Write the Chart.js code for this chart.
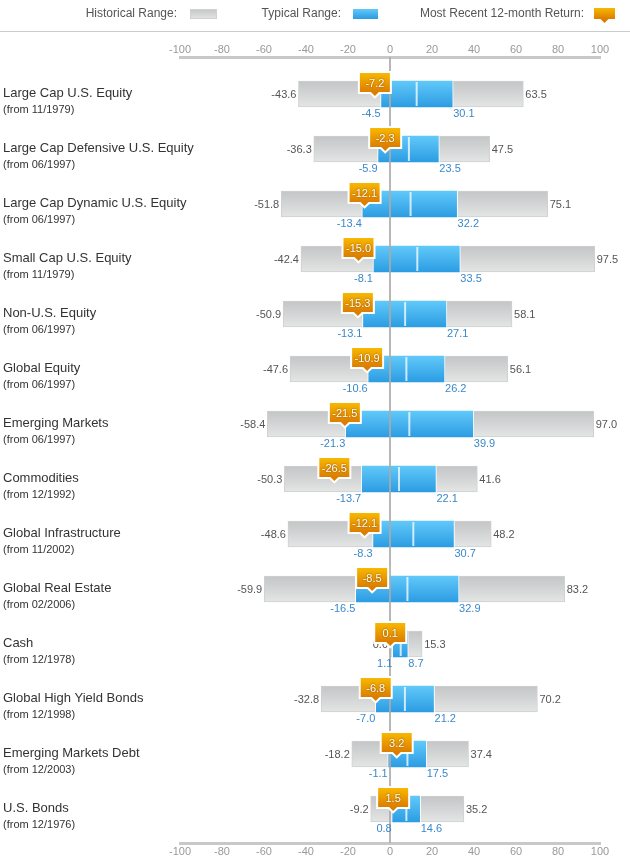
<!DOCTYPE html>
<html>
<head>
<meta charset="utf-8">
<script src="https://cdn.jsdelivr.net/npm/chart.js@4.4.1/dist/chart.umd.min.js"></script>
<style>
html, body { margin: 0; padding: 0; background: #fff; }
#wrap { width: 630px; height: 866px; position: relative; }
</style>
</head>
<body>
<div id="wrap"><canvas id="rangeChart"></canvas></div>
<script>
var categories = ["Large Cap U.S. Equity", "Large Cap Defensive U.S. Equity", "Large Cap Dynamic U.S. Equity",
  "Small Cap U.S. Equity", "Non-U.S. Equity", "Global Equity", "Emerging Markets", "Commodities",
  "Global Infrastructure", "Global Real Estate", "Cash", "Global High Yield Bonds",
  "Emerging Markets Debt", "U.S. Bonds"];
var fromDates = ["11/1979", "06/1997", "06/1997", "11/1979", "06/1997", "06/1997", "06/1997", "12/1992",
  "11/2002", "02/2006", "12/1978", "12/1998", "12/2003", "12/1976"];
var histMin = [-43.6, -36.3, -51.8, -42.4, -50.9, -47.6, -58.4, -50.3, -48.6, -59.9, 0.0, -32.8, -18.2, -9.2];
var histMax = [63.5, 47.5, 75.1, 97.5, 58.1, 56.1, 97.0, 41.6, 48.2, 83.2, 15.3, 70.2, 37.4, 35.2];
var typMin = [-4.5, -5.9, -13.4, -8.1, -13.1, -10.6, -21.3, -13.7, -8.3, -16.5, 1.1, -7.0, -1.1, 0.8];
var typMax = [30.1, 23.5, 32.2, 33.5, 27.1, 26.2, 39.9, 22.1, 30.7, 32.9, 8.7, 21.2, 17.5, 14.6];
var median = [12.7, 9.0, 9.8, 13.0, 7.2, 7.8, 9.2, 4.3, 11.1, 8.3, 5.1, 7.1, 8.3, 7.8];
var recent = [-7.2, -2.3, -12.1, -15.0, -15.3, -10.9, -21.5, -26.5, -12.1, -8.5, 0.1, -6.8, 3.2, 1.5];
var xTicks = [-100, -80, -60, -40, -20, 0, 20, 40, 60, 80, 100];

var FONT = "'Liberation Sans', Arial, sans-serif";

function rowGradient(chart, half, topColor, bottomColor) {
  var ys = chart.scales.y;
  var g = chart.ctx.createLinearGradient(0, ys.top, 0, ys.bottom);
  var span = ys.bottom - ys.top;
  function clamp(v) { return Math.max(0, Math.min(1, v)); }
  for (var i = 0; i < categories.length; i++) {
    var c = ys.getPixelForValue(i);
    g.addColorStop(clamp((c - half - ys.top) / span), topColor);
    g.addColorStop(clamp((c + half - ys.top) / span), bottomColor);
  }
  return g;
}

function swatchGradient(ctx, y0, y1, a, b) {
  var g = ctx.createLinearGradient(0, y0, 0, y1);
  g.addColorStop(0, a);
  g.addColorStop(1, b);
  return g;
}

function calloutPath(ctx, x, top, w, h) {
  ctx.beginPath();
  ctx.moveTo(x - w / 2, top);
  ctx.lineTo(x + w / 2, top);
  ctx.lineTo(x + w / 2, top + h);
  ctx.lineTo(x + 4, top + h);
  ctx.lineTo(x, top + h + 4);
  ctx.lineTo(x - 4, top + h);
  ctx.lineTo(x - w / 2, top + h);
  ctx.closePath();
}

function drawCallout(ctx, x, y, text) {
  var w = 30, h = 19, top = y - 21;
  ctx.save();
  calloutPath(ctx, x, top, w, h);
  ctx.lineWidth = 4;
  ctx.lineJoin = "miter";
  ctx.strokeStyle = "#fff";
  ctx.stroke();
  ctx.fillStyle = swatchGradient(ctx, top, top + h, "#f8b800", "#dc7d00");
  ctx.fill();
  ctx.font = "11px " + FONT;
  ctx.textAlign = "center";
  ctx.textBaseline = "middle";
  ctx.shadowColor = "rgba(90,40,0,0.8)";
  ctx.shadowBlur = 2;
  ctx.fillStyle = "#fff";
  ctx.fillText(text, x, top + h / 2 + 1);
  ctx.restore();
}

var decorations = {
  id: "decorations",
  afterDatasetsDraw: function(chart) {
    var ctx = chart.ctx, xs = chart.scales.x, ys = chart.scales.y;
    // zero line over the bars
    var zx = xs.getPixelForValue(0);
    ctx.save();
    ctx.strokeStyle = "rgba(170,170,170,0.85)";
    ctx.lineWidth = 2;
    ctx.beginPath();
    ctx.moveTo(zx, ys.top);
    ctx.lineTo(zx, ys.bottom);
    ctx.stroke();

    // value labels
    ctx.font = "11px " + FONT;
    ctx.textBaseline = "middle";
    var histMeta = chart.getDatasetMeta(0), typMeta = chart.getDatasetMeta(1);
    for (var i = 0; i < categories.length; i++) {
      var h = histMeta.data[i], t = typMeta.data[i];
      var hl = Math.min(h.x, h.base), hr = Math.max(h.x, h.base);
      var tl = Math.min(t.x, t.base), tr = Math.max(t.x, t.base);
      ctx.fillStyle = "#555";
      ctx.textAlign = "right";
      ctx.fillText(histMin[i].toFixed(1), hl - 2, h.y + 1);
      ctx.textAlign = "left";
      ctx.fillText(histMax[i].toFixed(1), hr + 2, h.y + 1);
      ctx.fillStyle = "#3b88c9";
      ctx.textAlign = "right";
      ctx.fillText(typMin[i].toFixed(1), tl, t.y + 20);
      ctx.textAlign = "left";
      ctx.fillText(typMax[i].toFixed(1), tr, t.y + 20);
    }
    ctx.restore();

    // recent return callouts
    var recMeta = chart.getDatasetMeta(3);
    recMeta.data.forEach(function(pt, i) {
      drawCallout(ctx, pt.x, pt.y, recent[i].toFixed(1));
    });
  },
  afterDraw: function(chart) {
    var ctx = chart.ctx, ys = chart.scales.y;
    ctx.save();
    // category names
    ctx.fillStyle = "#333";
    ctx.textAlign = "left";
    ctx.textBaseline = "middle";
    for (var i = 0; i < categories.length; i++) {
      var py = ys.getPixelForValue(i);
      ctx.font = "13px " + FONT;
      ctx.fillText(categories[i], 3, py - 1);
      ctx.font = "11px " + FONT;
      ctx.fillText("(from " + fromDates[i] + ")", 3, py + 16);
    }
    // legend
    ctx.font = "12px " + FONT;
    ctx.fillStyle = "#555";
    ctx.textAlign = "right";
    ctx.fillText("Historical Range:", 177, 14);
    ctx.fillText("Typical Range:", 341, 14);
    ctx.fillText("Most Recent 12-month Return:", 584, 14);
    ctx.fillStyle = swatchGradient(ctx, 9, 19, "#c3c5c6", "#e4e5e5");
    ctx.fillRect(190, 9, 27, 10);
    ctx.strokeStyle = "#d0d2d2";
    ctx.lineWidth = 1;
    ctx.strokeRect(190.5, 9.5, 26, 9);
    ctx.fillStyle = swatchGradient(ctx, 9, 19, "#62c9f9", "#2a9be2");
    ctx.fillRect(353, 9, 25, 10);
    calloutPath(ctx, 604.5, 8, 21, 11);
    ctx.fillStyle = swatchGradient(ctx, 8, 19, "#f8b800", "#dc7d00");
    ctx.fill();
    // separator
    ctx.strokeStyle = "#cccccc";
    ctx.beginPath();
    ctx.moveTo(0, 31.5);
    ctx.lineTo(630, 31.5);
    ctx.stroke();
    ctx.restore();
  }
};

var axisCommon = {
  type: "linear",
  min: -100,
  max: 100,
  grid: { display: false, drawTicks: false },
  border: { display: true, color: "#c8c8c8", width: 3 },
  afterBuildTicks: function(scale) {
    scale.ticks = xTicks.map(function(v) { return { value: v }; });
  }
};

new Chart("rangeChart", {
  type: "bar",
  data: {
    labels: categories,
    datasets: [{
      label: "Historical Range",
      data: categories.map(function(c, i) { return { x: [histMin[i], histMax[i]], y: i }; }),
      backgroundColor: function(c) {
        if (!c.chart.chartArea) return "#d5d6d6";
        return rowGradient(c.chart, 13, "#c3c5c6", "#e4e5e5");
      },
      borderColor: "#cfd1d1",
      borderWidth: 1,
      borderSkipped: false,
      barThickness: 26,
      grouped: false,
      order: 3
    }, {
      label: "Typical Range",
      data: categories.map(function(c, i) { return { x: [typMin[i], typMax[i]], y: i }; }),
      backgroundColor: function(c) {
        if (!c.chart.chartArea) return "#3fb0ee";
        return rowGradient(c.chart, 14, "#63cafa", "#2a9be2");
      },
      borderColor: "#ffffff",
      borderWidth: 1,
      borderSkipped: false,
      barThickness: 28,
      grouped: false,
      order: 2
    }, {
      type: "scatter",
      label: "Median",
      data: categories.map(function(c, i) { return { x: median[i], y: i }; }),
      pointStyle: "line",
      rotation: 90,
      pointRadius: 12,
      borderWidth: 2,
      borderColor: "rgba(255,255,255,0.75)",
      order: 1
    }, {
      type: "scatter",
      label: "Most Recent 12-month Return",
      data: categories.map(function(c, i) { return { x: recent[i], y: i }; }),
      pointRadius: 0,
      order: 0
    }]
  },
  options: {
    indexAxis: "y",
    responsive: true,
    maintainAspectRatio: false,
    animation: false,
    events: [],
    layout: { padding: { top: 37, right: 30, bottom: 0, left: 0 } },
    scales: {
      x: Object.assign({}, axisCommon, {
        position: "bottom",
        beginAtZero: false,
        ticks: { color: "#999", font: { size: 11, family: FONT }, padding: 2, maxRotation: 0, autoSkip: false },
        afterFit: function(scale) { scale.height = 23; }
      }),
      x2: Object.assign({}, axisCommon, {
        position: "top",
        ticks: { color: "#999", font: { size: 11, family: FONT }, padding: 0, maxRotation: 0, autoSkip: false },
        afterFit: function(scale) { scale.height = 20; }
      }),
      y: {
        type: "linear",
        reverse: true,
        min: -0.673,
        max: 13.618,
        offset: false,
        ticks: { display: false },
        grid: { display: false, offset: false },
        border: { display: false },
        afterFit: function(scale) { scale.width = 180; }
      }
    },
    plugins: {
      legend: { display: false },
      tooltip: { enabled: false }
    }
  },
  plugins: [decorations]
});
</script>
</body>
</html>
